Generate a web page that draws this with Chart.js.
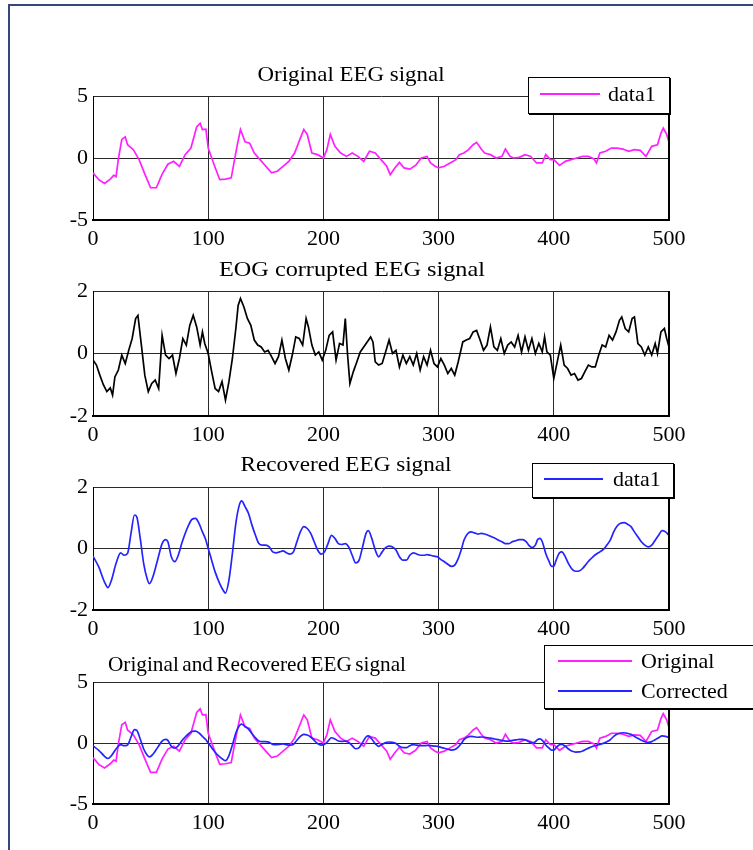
<!DOCTYPE html>
<html>
<head>
<meta charset="utf-8">
<script src="https://cdn.jsdelivr.net/npm/chart.js"></script>
<style>
  body { margin: 0; background: #fff; }
  #page { position: relative; width: 753px; height: 850px; overflow: hidden; background: #fff; }
  #frame { position: absolute; left: 8px; top: 4px; width: 800px; height: 900px;
           border-left: 2px solid #34497a; border-top: 2px solid #34497a; }
  canvas { position: absolute; left: 0; }
</style>
</head>
<body>
<div id="page"><div id="frame"></div></div>
<script>
'use strict';
// sample index (0..500) and amplitude

// original EEG
let origT = [0, 5, 10, 15, 18, 20, 22, 25, 28, 30, 35, 40, 45, 50, 55, 60, 65, 70, 75, 80, 85, 90, 93, 95, 98,
  100, 105, 110, 115, 120, 125, 128, 132, 136, 140, 145, 150, 155, 160, 165, 170, 175, 180, 183, 186, 190, 195,
  200, 203, 206, 210, 215, 220, 225, 230, 235, 240, 245, 250, 255, 258, 262, 266, 270, 275, 280, 285, 290, 293, 297,
  300, 305, 310, 315, 318, 322, 326, 330, 333, 337, 340, 345, 350, 355, 358, 362, 365, 370, 375, 380, 385, 390, 393, 397,
  400, 405, 410, 415, 420, 425, 430, 435, 437, 440, 445, 450, 455, 460, 465, 470, 475, 480, 485, 490, 493, 495, 498, 500];
let origV = [-1.2, -1.75, -2.05, -1.7, -1.4, -1.5, -0.1, 1.5, 1.7, 1.07, 0.67, -0.13, -1.3, -2.4, -2.4, -1.3, -0.5, -0.27, -0.67, 0.27, 0.8, 2.5, 2.8, 2.3, 2.33,
  0.8, -0.5, -1.75, -1.7, -1.6, 0.94, 2.3, 1.3, 1.2, 0.4, -0.13, -0.67, -1.2, -1.07, -0.67, -0.27, 0.4, 1.6, 2.3, 1.9, 0.4, 0.27,
  0, 0.67, 1.9, 0.94, 0.4, 0.13, 0.4, 0.13, -0.27, 0.54, 0.4, -0.13, -0.67, -1.34, -0.8, -0.35, -0.8, -0.9, -0.6, 0, 0.13, -0.4, -0.67,
  -0.8, -0.67, -0.4, -0.13, 0.27, 0.4, 0.67, 1.07, 1.26, 0.72, 0.4, 0.27, 0, 0.13, 0.72, 0.13, 0, 0.05, 0.27, 0.13, -0.4, -0.4, 0.27, -0.13,
  -0.13, -0.6, -0.27, -0.13, 0, 0.13, 0.13, -0.08, -0.4, 0.4, 0.54, 0.8, 0.8, 0.72, 0.54, 0.67, 0.62, 0.13, 0.94, 1.07, 2.0, 2.4, 1.9, 1.26];

// EOG corrupted EEG
let eogT = [0, 3, 6, 9, 12, 15, 17, 19, 22, 25, 28, 31, 34, 37, 39, 42, 45, 48, 51, 54, 57, 60, 63, 66, 69, 72, 75, 78, 81, 84, 87, 90, 93, 95, 97,
  100, 103, 106, 109, 112, 115, 118, 121, 124, 126, 128, 131, 134, 137, 140, 143, 146, 149, 152, 155, 158, 161, 164, 167, 170, 173, 176, 179, 182, 185, 187, 190, 193, 196, 199,
  202, 205, 208, 211, 214, 217, 219, 221, 223, 226, 229, 232, 235, 238, 241, 243, 245, 248, 251, 254, 257, 260, 263, 266, 269, 272, 275, 278, 281, 284, 287, 290, 293, 296, 299,
  302, 305, 308, 311, 314, 317, 319, 321, 324, 327, 330, 333, 336, 339, 342, 345, 348, 351, 354, 357, 360, 363, 366, 369, 372, 375, 378, 381, 384, 387, 390, 392, 394, 397,
  400, 403, 406, 409, 412, 415, 418, 421, 424, 427, 430, 433, 436, 439, 442, 445, 448, 451, 454, 457, 459, 462, 465, 468, 470, 473, 476, 479, 482, 485, 488, 490, 493, 496, 498, 500];
let eogV = [-0.21, -0.37, -0.7, -1.0, -1.22, -1.1, -1.33, -0.75, -0.53, -0.05, -0.32, 0.1, 0.48, 1.12, 1.22, 0.27, -0.7, -1.22, -0.96, -0.85, -1.12, 0.58, -0.05, -0.16, -0.05, -0.64, -0.16, 0.48, 0.27, 0.9, 1.22, 0.85, 0.27, 0.69, 0.32,
  0, -0.58, -1.12, -1.22, -0.9, -1.49, -0.9, -0.16, 0.8, 1.54, 1.76, 1.49, 1.12, 0.9, 0.43, 0.27, 0.21, 0.05, 0.1, -0.1, -0.32, -0.1, 0.43, -0.16, -0.53, -0.05, 0.53, 0.48, 0.27, 1.12, 0.85, 0.27, -0.05, 0.05, -0.21,
  0.1, 0.58, 0.69, -0.21, 0.32, 0.27, 1.12, -0.05, -0.96, -0.58, -0.27, 0.05, 0.21, 0.37, 0.53, 0.37, -0.27, -0.37, -0.32, 0.05, 0.43, 0, 0.1, -0.43, -0.05, -0.32, -0.1, -0.37, 0, -0.53, -0.1, -0.37, 0.1, -0.32, -0.43,
  -0.16, -0.37, -0.64, -0.48, -0.69, -0.27, 0.05, 0.37, 0.43, 0.48, 0.69, 0.74, 0.43, 0.1, 0.27, 0.85, 0.21, 0.1, 0.48, 0, 0.27, 0.37, 0.21, 0.58, 0.05, 0.53, 0.1, 0.48, 0, 0.32, 0.05, 0.53, 0.05, -0.05,
  -0.8, -0.27, 0.27, -0.37, -0.48, -0.69, -0.64, -0.85, -0.8, -0.58, -0.37, -0.43, -0.43, -0.05, 0.27, 0.21, 0.58, 0.43, 0.69, 1.06, 1.17, 0.8, 0.69, 1.12, 1.17, 0.32, 0.21, -0.05, 0.21, -0.05, 0.32, 0, 0.69, 0.8, 0.48, 0.21];

// recovered (corrected) EEG
let recT = [0, 5, 10, 13, 16, 20, 24, 27, 30, 33, 36, 38, 41, 44, 47, 49, 52, 56, 60, 63, 65, 68, 71, 74, 77, 80, 83, 86, 89, 92, 95, 98,
  100, 103, 106, 110, 113, 115, 118, 121, 124, 127, 129, 132, 135, 138, 141, 144, 147, 150, 153, 156, 159, 162, 165, 168, 171, 174, 177, 180, 183, 186, 189, 192, 195, 198,
  201, 204, 207, 210, 213, 216, 219, 222, 225, 228, 231, 234, 237, 239, 242, 245, 248, 251, 254, 257, 260, 263, 266, 269, 272, 275, 278, 281, 284, 287, 290, 293, 296, 299,
  302, 305, 308, 311, 314, 317, 320, 322, 325, 328, 331, 334, 337, 340, 343, 346, 349, 352, 355, 358, 361, 364, 367, 370, 373, 376, 379, 381, 384, 386, 388, 390, 393, 396, 398,
  400, 402, 405, 407, 410, 413, 416, 419, 422, 425, 428, 431, 434, 437, 440, 443, 446, 449, 452, 455, 458, 461, 464, 467, 470, 473, 476, 479, 482, 485, 488, 491, 494, 497, 500];
let recV = [-0.25, -0.6, -1.09, -1.27, -1.03, -0.49, -0.14, -0.22, -0.16, 0.49, 1.09, 1.03, 0.33, -0.49, -0.98, -1.14, -0.92, -0.38, 0.16, 0.29, 0.22, -0.27, -0.43, -0.22, 0.16, 0.49, 0.76, 0.95, 0.98, 0.82, 0.54, 0.27,
  0, -0.38, -0.76, -1.14, -1.36, -1.45, -1.03, -0.16, 0.82, 1.41, 1.55, 1.36, 1.14, 0.76, 0.43, 0.16, 0.11, 0.11, 0.05, -0.11, -0.14, -0.11, -0.08, -0.14, -0.18, -0.11, 0.22, 0.54, 0.71, 0.65, 0.49, 0.22, -0.05, -0.18,
  -0.11, 0.16, 0.43, 0.33, 0.16, 0.13, 0.16, 0.05, -0.22, -0.47, -0.38, 0.05, 0.49, 0.58, 0.33, -0.05, -0.27, -0.11, 0.03, 0.08, 0.05, -0.05, -0.27, -0.38, -0.38, -0.22, -0.14, -0.18, -0.22, -0.22, -0.2, -0.22, -0.25, -0.27,
  -0.36, -0.43, -0.51, -0.58, -0.54, -0.33, 0, 0.27, 0.47, 0.54, 0.51, 0.47, 0.49, 0.47, 0.43, 0.38, 0.33, 0.27, 0.22, 0.16, 0.16, 0.22, 0.25, 0.29, 0.29, 0.22, 0.08, 0.03, 0.11, 0.29, 0.33, 0.22, -0.16, -0.43, -0.58,
  -0.58, -0.38, -0.14, -0.11, -0.27, -0.51, -0.68, -0.74, -0.73, -0.65, -0.51, -0.38, -0.27, -0.18, -0.11, -0.03, 0.11, 0.27, 0.54, 0.73, 0.82, 0.84, 0.79, 0.71, 0.54, 0.38, 0.22, 0.11, 0.05, 0.11, 0.27, 0.43, 0.58, 0.54, 0.43];

let MAGENTA = '#ff1fff';
let BLUE = '#2424ff';
let FONT = '"Liberation Serif", "Times New Roman", serif';

function pts(ts, vs) {
  return ts.map((t, i) => ({ x: t, y: vs[i] }));
}

// titles, legend boxes and the heavier right edge of each axes box
let decor = {
  id: 'decor',
  afterDraw(chart, args, opts) {
    let ctx = chart.ctx;
    let a = chart.chartArea;
    ctx.save();
    ctx.strokeStyle = '#000';
    ctx.lineWidth = 2;
    ctx.beginPath();
    ctx.moveTo(a.right, a.top);
    ctx.lineTo(a.right, a.bottom + 1);
    ctx.stroke();

    // title, fitted to the width it has in the reference
    ctx.fillStyle = '#000';
    ctx.font = '22px ' + FONT;
    ctx.wordSpacing = opts.wordGap || '0px';
    ctx.textAlign = 'center';
    ctx.textBaseline = 'alphabetic';
    let w = ctx.measureText(opts.title).width;
    ctx.save();
    ctx.translate(opts.titleX, opts.titleY);
    ctx.scale(opts.titleW / w, 1);
    ctx.fillText(opts.title, 0, 0);
    ctx.restore();
    ctx.wordSpacing = '0px';

    let L = opts.legend;
    if (L) {
      ctx.fillStyle = '#fff';
      ctx.fillRect(L.x, L.y, L.w, L.h);
      ctx.lineWidth = 1;
      ctx.strokeStyle = '#000';
      ctx.strokeRect(L.x + 0.5, L.y + 0.5, L.w, L.h);
      ctx.lineWidth = 2;
      ctx.beginPath();
      ctx.moveTo(L.x + L.w + 1, L.y + 1);
      ctx.lineTo(L.x + L.w + 1, L.y + L.h + 1);
      ctx.lineTo(L.x + 1, L.y + L.h + 1);
      ctx.stroke();
      ctx.textAlign = 'left';
      ctx.textBaseline = 'middle';
      L.rows.forEach((r) => {
        let ds = chart.data.datasets[r.ds];
        ctx.strokeStyle = ds.borderColor;
        ctx.lineWidth = 1.8;
        ctx.beginPath();
        ctx.moveTo(L.lineX1, r.y);
        ctx.lineTo(L.lineX2, r.y);
        ctx.stroke();
        ctx.fillStyle = '#000';
        ctx.fillText(ds.label, L.textX, r.y + 1);
      });
    }
    ctx.restore();
  }
};

let page = document.getElementById('page');

function makePanel(p) {
  let cv = document.createElement('canvas');
  cv.width = 753;
  cv.height = p.plotBottom + 32 - p.top;
  cv.style.top = p.top + 'px';
  page.appendChild(cv);
  let gridStyle = { color: '#2a2a2a', lineWidth: 1, drawTicks: false };
  return new Chart(cv.getContext('2d'), {
    type: 'line',
    data: { datasets: p.datasets },
    options: {
      responsive: false,
      animation: false,
      devicePixelRatio: 1,
      layout: { padding: { top: p.plotTop - p.top, right: 84, left: 0, bottom: 0 } },
      elements: { point: { radius: 0 }, line: { borderWidth: 1.7 } },
      scales: {
        x: {
          type: 'linear', min: 0, max: 500,
          ticks: { stepSize: 100, color: '#000', padding: 6, maxRotation: 0, font: { family: FONT, size: 22 } },
          grid: gridStyle,
          border: { color: '#000', width: 2 },
          afterFit: (s) => { s.height = 32; }
        },
        y: {
          min: -p.yMax, max: p.yMax,
          ticks: { stepSize: p.yMax, color: '#000', padding: 5, font: { family: FONT, size: 22 } },
          grid: gridStyle,
          border: { color: '#000', width: 1 },
          afterFit: (s) => { s.width = 93; }
        }
      },
      plugins: {
        legend: { display: false },
        tooltip: { enabled: false },
        decor: p.decor
      }
    },
    plugins: [decor]
  });
}

makePanel({
  top: 0, plotTop: 96, plotBottom: 220, yMax: 5,
  datasets: [{ label: 'data1', data: pts(origT, origV), borderColor: MAGENTA, tension: 0 }],
  decor: {
    title: 'Original EEG signal', titleX: 351, titleY: 81, titleW: 187,
    legend: { x: 528, y: 77, w: 141, h: 36, lineX1: 540, lineX2: 600, textX: 608, rows: [{ ds: 0, y: 94 }] }
  }
});

makePanel({
  top: 250, plotTop: 291, plotBottom: 416, yMax: 2,
  datasets: [{ label: 'data1', data: pts(eogT, eogV), borderColor: '#000', tension: 0 }],
  decor: { title: 'EOG corrupted EEG signal', titleX: 352, titleY: 26, titleW: 266 }
});

makePanel({
  top: 446, plotTop: 487, plotBottom: 610, yMax: 2,
  datasets: [{ label: 'data1', data: pts(recT, recV), borderColor: BLUE, cubicInterpolationMode: 'monotone' }],
  decor: {
    title: 'Recovered EEG signal', titleX: 346, titleY: 25, titleW: 211,
    legend: { x: 532, y: 17, w: 141, h: 34, lineX1: 544, lineX2: 603, textX: 613, rows: [{ ds: 0, y: 33 }] }
  }
});

makePanel({
  top: 640, plotTop: 682, plotBottom: 804, yMax: 5,
  datasets: [
    { label: 'Original', data: pts(origT, origV), borderColor: MAGENTA, tension: 0, order: 1 },
    { label: 'Corrected', data: pts(recT, recV), borderColor: BLUE, cubicInterpolationMode: 'monotone', order: 0 }
  ],
  decor: {
    title: 'Original and Recovered EEG signal', titleX: 257, titleY: 31, titleW: 298, wordGap: '-2px',
    legend: { x: 544, y: 5, w: 220, h: 63, lineX1: 558, lineX2: 632, textX: 641, rows: [{ ds: 0, y: 21 }, { ds: 1, y: 51 }] }
  }
});
</script>
</body>
</html>
